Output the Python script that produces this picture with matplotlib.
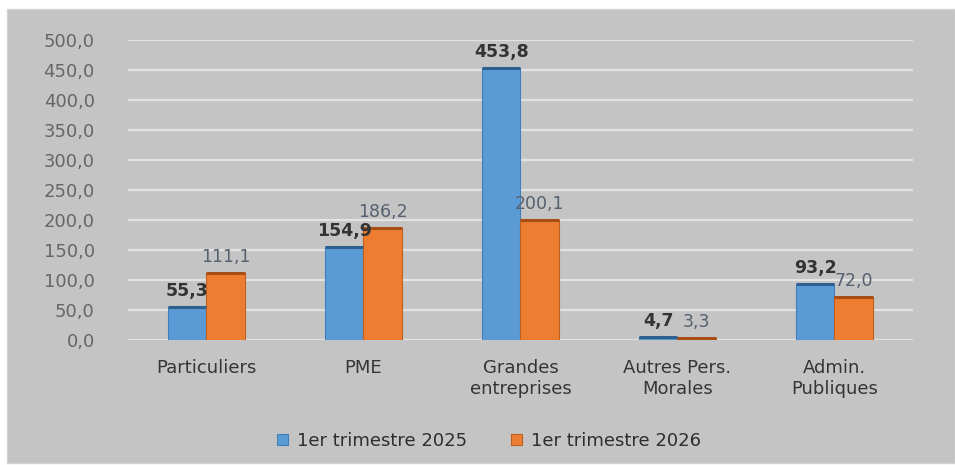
import matplotlib.pyplot as plt
import numpy as np
from matplotlib.patches import Rectangle

categories = ['Particuliers', 'PME', 'Grandes\nentreprises', 'Autres Pers.\nMorales', 'Admin.\nPubliques']
serie_2025 = [55.3, 154.9, 453.8, 4.7, 93.2]
serie_2026 = [111.1, 186.2, 200.1, 3.3, 72.0]
series_names = ['1er trimestre 2025', '1er trimestre 2026']

blue = '#5b9bd5'
orange = '#ed7d31'

fig = plt.figure(figsize=(9.55, 4.65), dpi=100, facecolor='white')
# grey chart area
fig.patches.append(Rectangle((7 / 955, 2 / 465), 948 / 955, 454 / 465,
                             transform=fig.transFigure, facecolor='#c4c4c4',
                             edgecolor='#d4d4d4', lw=1, zorder=-5))

ax = fig.add_axes([0.134, 0.269, 0.822, 0.645])
ax.set_facecolor('none')

x = np.arange(len(categories))
w = 0.245
b1 = ax.bar(x - w / 2, serie_2025, w, color=blue, edgecolor='#3f7fbf', lw=0.8,
            label=series_names[0], zorder=3)
b2 = ax.bar(x + w / 2, serie_2026, w, color=orange, edgecolor='#c0601f', lw=0.8,
            label=series_names[1], zorder=3)

# darker top edge, like the 3D caps of the original
for bars, cap in ((b1, '#2f5f8f'), (b2, '#a84e14')):
    for rect in bars:
        ax.plot([rect.get_x(), rect.get_x() + rect.get_width()], [rect.get_height()] * 2,
                color=cap, lw=2.2, zorder=4, solid_capstyle='butt')

for rect, v in zip(b1, serie_2025):
    ax.annotate(f'{v:.1f}'.replace('.', ','), (rect.get_x() + rect.get_width() / 2, v),
                xytext=(0, 5), textcoords='offset points', ha='center', va='bottom',
                fontsize=12.5, fontweight='bold', color='#333333', zorder=5)
for rect, v in zip(b2, serie_2026):
    ax.annotate(f'{v:.1f}'.replace('.', ','), (rect.get_x() + rect.get_width() / 2, v),
                xytext=(0, 5), textcoords='offset points', ha='center', va='bottom',
                fontsize=12.5, color='#556070', zorder=5)

ax.set_ylim(0, 500)
ax.set_xlim(-0.5, len(categories) - 0.5)
ax.set_yticks(np.arange(0, 501, 50))
ax.set_yticklabels([f'{t:.1f}'.replace('.', ',') for t in np.arange(0, 501, 50)])
ax.set_xticks(x)
ax.set_xticklabels(categories)
ax.tick_params(axis='y', length=0, pad=24, labelsize=13, labelcolor='#666666')
ax.tick_params(axis='x', length=0, pad=14, labelsize=13, labelcolor='#353535')
ax.grid(axis='y', color='#e2e2e2', lw=1.6, zorder=1)
for s in ax.spines.values():
    s.set_visible(False)

fig.legend(handles=[b1, b2], labels=series_names, loc='center',
           bbox_to_anchor=(0.512, 0.052), ncol=2, frameon=False, fontsize=13,
           handlelength=0.6, handleheight=0.6, handletextpad=0.5, columnspacing=2.4,
           labelcolor='#2e2e2e')

fig.savefig('out.png', dpi=100, facecolor='white')
